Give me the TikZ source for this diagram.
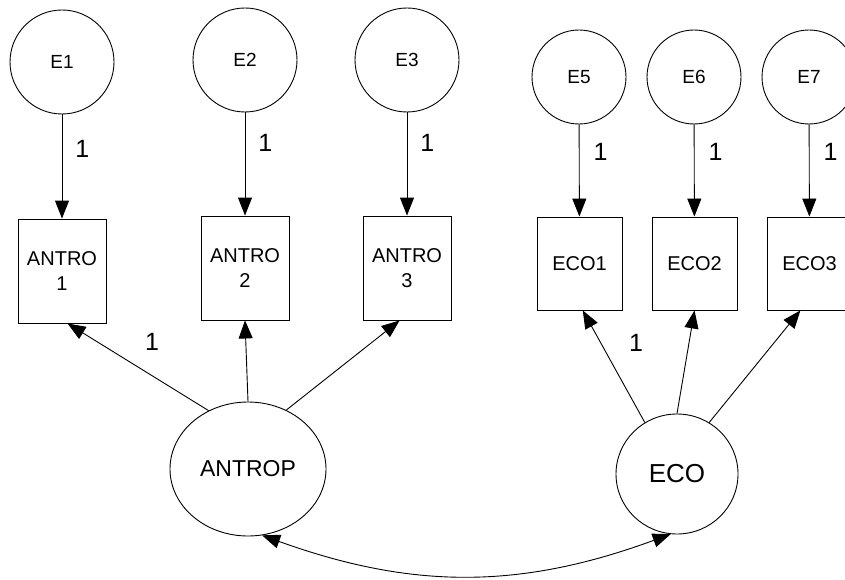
\documentclass[tikz,border=0pt]{standalone}
\usepackage{fontspec}
\setmainfont{Liberation Sans}
\usetikzlibrary{arrows.meta, positioning, shapes.geometric}

\begin{document}
\begin{tikzpicture}[x=1pt, y=-1pt, line width=0.9pt, >={Triangle[length=18pt, width=14pt]}]
    \tikzstyle{err} = [circle, draw, minimum size=104pt, inner sep=0pt, font=\fontsize{19}{22}\selectfont]
    \tikzstyle{errsm} = [err, minimum size=94pt]
    \tikzstyle{obs} = [rectangle, draw, minimum width=88pt, minimum height=104pt, inner sep=0pt, align=center, font=\fontsize{20}{25}\selectfont]
    \tikzstyle{obssm} = [obs, minimum width=85pt, minimum height=93pt]
    \tikzstyle{lat} = [ellipse, draw, inner sep=0pt]
    \tikzstyle{wt} = [inner sep=0pt, font=\fontsize{25}{25}\selectfont]
    \useasboundingbox (0,0) rectangle (845,580);
    % error terms
    \node[err] (e1) at (62,62) {E1};
    \node[err] (e2) at (245,60) {E2};
    \node[err] (e3) at (407,60) {E3};
    \node[errsm] (e5) at (579,77) {E5};
    \node[errsm] (e6) at (694,77) {E6};
    \node[errsm] (e7) at (809,77) {E7};
    % observed
    \node[obs] (antro1) at (62,271) {ANTRO\\1};
    \node[obs] (antro2) at (245,268) {ANTRO\\2};
    \node[obs] (antro3) at (407,268) {ANTRO\\3};
    \node[obssm] (eco1) at (579.5,263.5) {ECO1};
    \node[obssm] (eco2) at (694.5,263.5) {ECO2};
    \node[obssm] (eco3) at (809.5,263.5) {ECO3};
    % latent
    \node[lat, minimum width=156pt, minimum height=134pt, font=\fontsize{23}{23}\selectfont] (antrop) at (248,469) {ANTROP};
    \node[lat, minimum width=122pt, minimum height=120pt, font=\fontsize{26}{26}\selectfont] (eco) at (677,474) {ECO};
    % paths
    \draw[->] (e1) -- node[wt, pos=0.33, right=13pt] (w1) {1} (antro1);
    \draw[->] (e2) -- node[wt, pos=0.3, right=13pt] (w2) {1} (antro2);
    \draw[->] (e3) -- node[wt, pos=0.3, right=13pt] (w3) {1} (antro3);
    \draw[->] (e5) -- node[wt, pos=0.3, right=14pt] (w5) {1} (eco1);
    \draw[->] (e6) -- node[wt, pos=0.3, right=14pt] (w6) {1} (eco2);
    \draw[->] (e7) -- node[wt, pos=0.3, right=14pt] (w7) {1} (eco3);
    \draw[->] (antrop.124) -- node[wt, pos=0.4, above=25pt] (w4) {1} (antro1.-84);
    \draw[->] (antrop.north) -- (antro2.south);
    \draw[->] (antrop.57) -- (antro3.-98);
    \draw[->] (eco.122) -- node[wt, pos=0.71, right=28pt] (w8) {1} (eco1.-86);
    \draw[->] (eco.north) -- (eco2.south);
    \draw[->] (eco.58) -- (eco3.-101);
    \draw[<->] (antrop.-78) to[bend right=20] (eco.-96);
\end{tikzpicture}
\end{document}
